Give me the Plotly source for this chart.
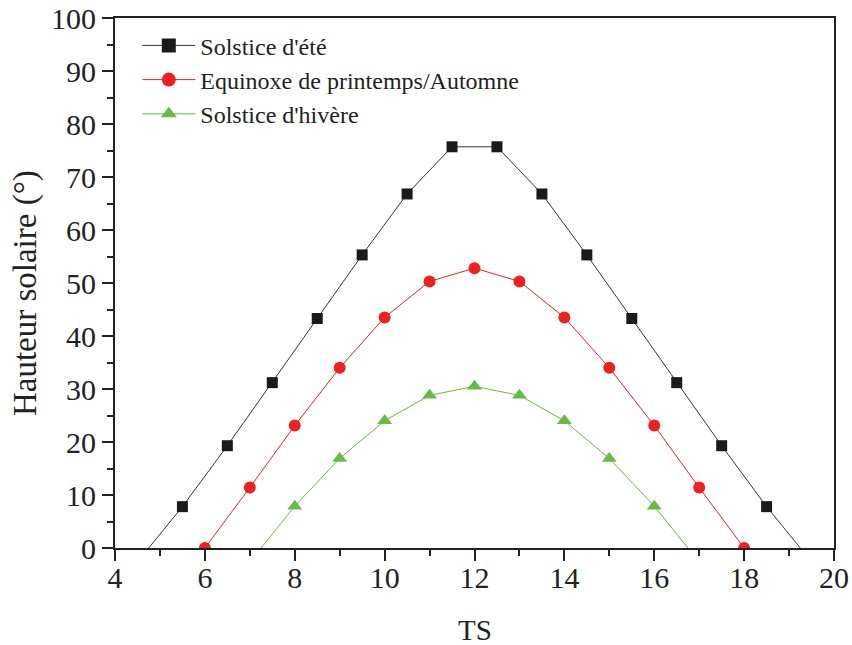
import plotly.graph_objects as go

# Data
summer_x = [4.75, 5.5, 6.5, 7.5, 8.5, 9.5, 10.5, 11.5, 12.5, 13.5, 14.5, 15.5, 16.5, 17.5, 18.5, 19.25]
summer_y = [0, 7.8, 19.3, 31.2, 43.3, 55.3, 66.8, 75.7, 75.7, 66.8, 55.3, 43.3, 31.2, 19.3, 7.8, 0]
summer_marker = [0, 11, 11, 11, 11, 11, 11, 11, 11, 11, 11, 11, 11, 11, 11, 0]

equinox_x = [6, 7, 8, 9, 10, 11, 12, 13, 14, 15, 16, 17, 18]
equinox_y = [0, 11.4, 23.1, 34.0, 43.5, 50.3, 52.8, 50.3, 43.5, 34.0, 23.1, 11.4, 0]

winter_x = [7.25, 8, 9, 10, 11, 12, 13, 14, 15, 16, 16.75]
winter_y = [0, 7.9, 16.9, 24.0, 28.8, 30.5, 28.8, 24.0, 16.9, 7.9, 0]
winter_marker = [0, 13, 13, 13, 13, 13, 13, 13, 13, 13, 0]

names = ["Solstice d'été", "Equinoxe de printemps/Automne", "Solstice d'hivère"]
colors = ["#1a1a1a", "#ee2020", "#66bb44"]
line_colors = ["#333333", "#ee2020", "#66bb44"]
symbols = ["square", "circle", "triangle-up"]
legend_sizes = [14, 14, 14]

x_ticks = [4, 6, 8, 10, 12, 14, 16, 18, 20]
y_ticks = [0, 10, 20, 30, 40, 50, 60, 70, 80, 90, 100]

x_title = "TS"
y_title = "Hauteur solaire (°)"

FONT = "Liberation Serif"
INK = "#222222"

fig = go.Figure()
series = [
    (summer_x, summer_y, summer_marker),
    (equinox_x, equinox_y, 12),
    (winter_x, winter_y, winter_marker),
]
for i, (xs, ys, ms) in enumerate(series):
    fig.add_trace(go.Scatter(
        x=xs, y=ys, mode="lines+markers", name=names[i], legendgroup=names[i],
        showlegend=False,
        line=dict(color=line_colors[i], width=1),
        marker=dict(symbol=symbols[i], size=ms, color=colors[i], opacity=1, line=dict(width=0)),
    ))
# legend entries
for i in range(3):
    fig.add_trace(go.Scatter(
        x=[None], y=[None], mode="lines+markers", name=names[i], legendgroup=names[i],
        showlegend=True,
        line=dict(color=line_colors[i], width=1),
        marker=dict(symbol=symbols[i], size=legend_sizes[i], color=colors[i], opacity=1, line=dict(width=0)),
    ))

axis_common = dict(
    showgrid=False, zeroline=False, showline=True, linecolor=INK, linewidth=2,
    mirror=True, ticks="outside", ticklen=11, tickwidth=2, tickcolor=INK,
    tickfont=dict(family=FONT, size=30, color=INK), automargin=False,
    ticklabeloverflow="allow",
)

fig.update_xaxes(
    range=[4, 20], tickvals=x_ticks, ticktext=[str(v) for v in x_ticks],
    minor=dict(dtick=1, ticks="outside", ticklen=6, tickwidth=2, tickcolor=INK),
    ticklabelstandoff=-9,
    **axis_common,
)
fig.update_yaxes(
    range=[0, 100], tickvals=y_ticks, ticktext=[str(v) for v in y_ticks],
    minor=dict(dtick=5, ticks="outside", ticklen=6, tickwidth=2, tickcolor=INK),
    **axis_common,
)

fig.add_annotation(
    text=x_title, xref="paper", yref="paper", x=0.5, y=-0.1547,
    xanchor="center", yanchor="middle", showarrow=False,
    font=dict(family=FONT, size=29, color=INK),
)
fig.add_annotation(
    text=y_title, xref="paper", yref="paper", x=0, y=0.481, xshift=-90,
    xanchor="center", yanchor="middle", textangle=-90, showarrow=False,
    font=dict(family=FONT, size=33, color=INK),
)

fig.update_layout(
    width=852, height=645,
    margin=dict(l=115, r=18, t=18, b=97),
    plot_bgcolor="white", paper_bgcolor="white",
    font=dict(family=FONT, color=INK),
    hovermode=False,
    legend=dict(
        x=0.031, y=0.99, xanchor="left", yanchor="top",
        font=dict(family=FONT, size=24, color=INK),
        bgcolor="rgba(0,0,0,0)", tracegroupgap=0, itemwidth=53,
    ),
    showlegend=True,
)

# remove the default page margin and scrollbars so the figure fills the window exactly
page_fix = (
    "document.body.style.margin='0';"
    "document.body.style.overflow='hidden';"
    "document.documentElement.style.overflow='hidden';"
)
fig.write_html("out.html", post_script=page_fix, config={"displayModeBar": False})
